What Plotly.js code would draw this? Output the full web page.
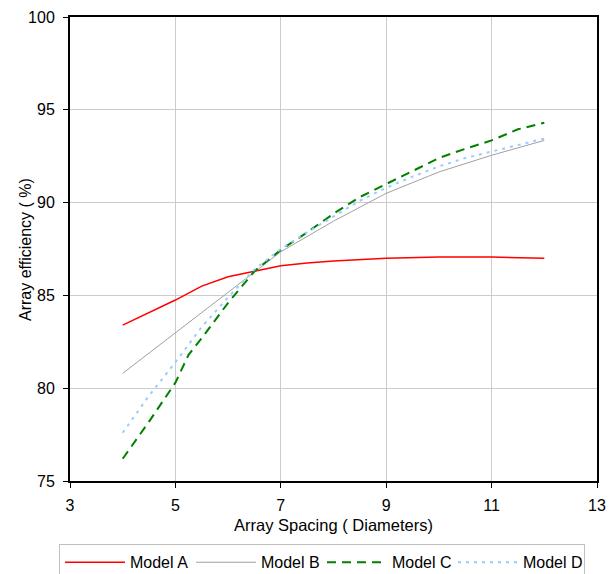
<!DOCTYPE html>
<html>
<head>
<meta charset="utf-8">
<script src="https://cdn.plot.ly/plotly-3.0.1.min.js"></script>
<style>html,body{margin:0;padding:0;background:#fff;}#chart{width:615px;height:574px;}</style>
</head>
<body>
<div id="chart"></div>
<script>
const seriesNames = ["Model A", "Model B", "Model C", "Model D"];

const xA = [4, 5, 5.5, 6, 6.5, 7, 7.5, 8, 9, 10, 11, 12];
const yA = [83.4, 84.75, 85.5, 86.0, 86.3, 86.6, 86.75, 86.85, 87.0, 87.07, 87.07, 87.0];

const xB = [4, 5, 5.5, 6, 6.5, 7, 8, 9, 10, 11, 12];
const yB = [80.8, 83.0, 84.1, 85.2, 86.3, 87.35, 89.0, 90.5, 91.65, 92.55, 93.35];

const xC = [4, 4.5, 5, 5.25, 5.5, 6, 6.5, 7, 7.5, 8, 8.5, 9, 9.5, 10, 10.5, 11, 11.5, 12];
const yC = [76.2, 78.2, 80.3, 81.8, 82.7, 84.6, 86.3, 87.45, 88.4, 89.4, 90.3, 91.0, 91.7, 92.4, 92.9, 93.35, 93.95, 94.3];

const xD = [4, 4.5, 5, 5.5, 6, 6.5, 7, 7.5, 8, 8.5, 9, 9.5, 10, 10.5, 11, 11.5, 12];
const yD = [77.6, 79.6, 81.4, 83.3, 84.9, 86.4, 87.5, 88.4, 89.25, 90.1, 90.8, 91.4, 91.95, 92.4, 92.75, 93.1, 93.45];

const xTicks = [3, 5, 7, 9, 11, 13];
const yTicks = [75, 80, 85, 90, 95, 100];

const xTitle = "Array Spacing ( Diameters)";
const yTitle = "Array efficiency ( %)";

const fam = "Liberation Sans, Arial, sans-serif";
const font = {family: fam, size: 16, color: "#000"};

const traces = [
  {x: xA, y: yA, name: seriesNames[0], mode: "lines", line: {color: "#ff0000", width: 1.5}},
  {x: xB, y: yB, name: seriesNames[1], mode: "lines", line: {color: "#a0a0a0", width: 1}},
  {x: xC, y: yC, name: seriesNames[2], mode: "lines", line: {color: "#008000", width: 2, dash: "9px,6px"}},
  {x: xD, y: yD, name: seriesNames[3], mode: "lines", line: {color: "#99ccff", width: 2, dash: "3px,5px"}}
];

const layout = {
  width: 615, height: 574,
  margin: {l: 70, r: 18, t: 17, b: 93, autoexpand: false},
  paper_bgcolor: "#fff", plot_bgcolor: "#fff",
  font: font,
  showlegend: true,
  xaxis: {
    range: [3, 13], tickvals: xTicks, ticktext: xTicks.map(String),
    showgrid: true, gridcolor: "#cccccc", gridwidth: 1,
    showline: true, linecolor: "#000", linewidth: 2, mirror: true,
    ticks: "outside", ticklen: 5, tickcolor: "#000", tickwidth: 1,
    ticklabelstandoff: 4,
    zeroline: false, tickfont: font,
    title: {text: xTitle, font: {family: fam, size: 16.5, color: "#000"}, standoff: 6}
  },
  yaxis: {
    range: [75, 100], tickvals: yTicks, ticktext: yTicks.map(String),
    showgrid: true, gridcolor: "#cccccc", gridwidth: 1,
    showline: true, linecolor: "#000", linewidth: 2, mirror: true,
    ticks: "outside", ticklen: 5, tickcolor: "#000", tickwidth: 1,
    ticklabelstandoff: 5,
    zeroline: false, tickfont: font
  },
  annotations: [{
    text: yTitle, textangle: -90, showarrow: false,
    xref: "paper", yref: "paper", x: -0.0854, y: 0.5,
    xanchor: "center", yanchor: "middle", font: font
  }],
  legend: {
    orientation: "h", x: -0.0209, xanchor: "left", y: -0.1365, yanchor: "top",
    bordercolor: "#c0c0c0", borderwidth: 1, font: font,
    entrywidth: 56, entrywidthmode: "pixels", itemwidth: 60
  }
};

Plotly.newPlot("chart", traces, layout, {displayModeBar: false, staticPlot: true});
</script>
</body>
</html>
